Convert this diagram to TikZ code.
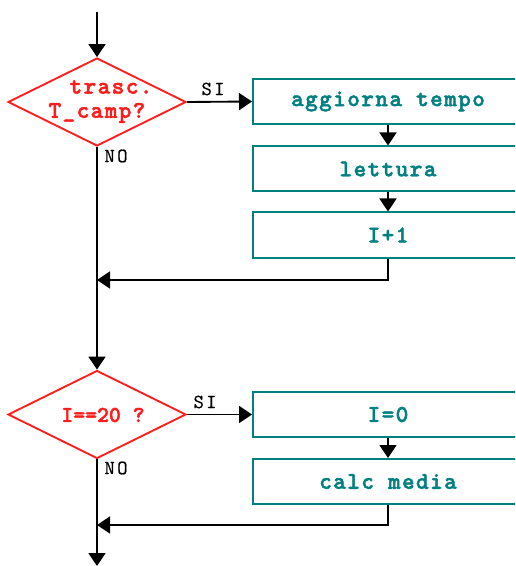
\documentclass[tikz,border=0pt]{standalone}
\usepackage{fontspec}
\setmainfont{Liberation Serif}
\newfontfamily\boxfont{Latin Modern Mono Light}[LetterSpace=6,BoldFeatures={FakeBold=2}]
\newfontfamily\tightfont{Latin Modern Mono Light}[BoldFeatures={FakeBold=2}]
\newfontfamily\lblfont{Latin Modern Mono}[LetterSpace=12,FakeBold=0.6]
\usetikzlibrary{shapes.geometric,arrows.meta}
\definecolor{boxteal}{RGB}{0,128,128}
\definecolor{decred}{RGB}{255,28,28}
\begin{document}
\begin{tikzpicture}[x=0.75pt,y=-0.75pt,
  stepbox/.style={draw=boxteal,line width=1.5pt,minimum width=202.5pt,minimum height=33.75pt,inner sep=0pt,
     text=boxteal,font=\boxfont\bfseries\fontsize{18}{20}\selectfont},
  dia/.style={diamond,draw=decred,line width=1.4pt,minimum width=133.5pt,minimum height=66pt,inner sep=0pt},
  dtext/.style={text=decred,inner sep=0pt,font=\boxfont\bfseries\fontsize{18}{20}\selectfont},
  lbl/.style={inner sep=0pt,font=\lblfont\fontsize{15}{17}\selectfont},
  link/.style={draw=black,line width=1.4pt},
  arr/.style={link,-{Triangle[length=9.75pt,width=12.75pt]}}]
\path[use as bounding box] (0,0) rectangle (515,566);
\clip (0,0) rectangle (515,566);
% decisions
\node[dia] (d1) at (97,102) {};
\node[dtext] (d1a) at (111,87) {trasc.};
\node[dtext] (d1b) at (97,113) {T\_camp?};
\node[dia] (d2) at (97,414.5) {};
\node[dtext,font=\tightfont\bfseries\fontsize{17}{19}\selectfont] (d2a) at (103,415) {I==20 ?};
% boxes
\node[stepbox] (b1) at (388,101.5) {aggiorna tempo};
\node[stepbox] (b2) at (388,169) {lettura};
\node[stepbox] (b3) at (388,235) {I+1};
\node[stepbox] (b4) at (388,414.5) {I=0};
\node[stepbox] (b5) at (388,481.5) {calc media};
% labels
\node[lbl] (si1) at (213,89) {SI};
\node[lbl] (no1) at (116,156) {NO};
\node[lbl] (si2) at (205,402) {SI};
\node[lbl] (no2) at (116,468) {NO};
% coordinates
\coordinate (top) at (97,12);
\coordinate (j1) at (97,280);
\coordinate (j2) at (97,525);
\coordinate (bot) at (97,566);
% connectors
\draw[arr] (top) -- (d1.north);
\draw[arr] (d1.east) -- (b1.west);
\draw[arr] (b1.south) -- (b2.north);
\draw[arr] (b2.south) -- (b3.north);
\draw[arr] (b3.south) |- (j1);
\draw[arr] (d1.south) -- (d2.north);
\draw[arr] (d2.east) -- (b4.west);
\draw[arr] (b4.south) -- (b5.north);
\draw[arr] (b5.south) |- (j2);
\draw[arr] (d2.south) -- (bot);
\end{tikzpicture}
\end{document}
